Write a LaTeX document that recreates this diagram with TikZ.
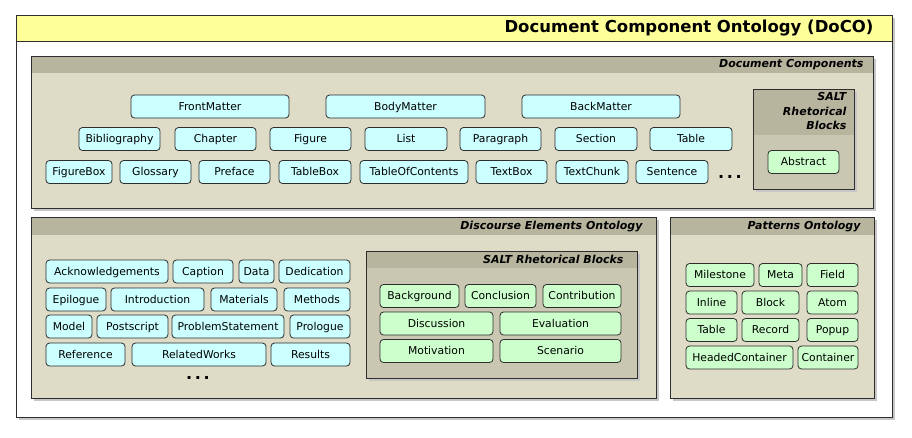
\documentclass[tikz,border=0pt]{standalone}
\usepackage{fontspec}
\setmainfont{DejaVu Sans}
\usepackage{tikz}
\usetikzlibrary{shadows}
\definecolor{titelgelb}{HTML}{FFFF99}
\definecolor{kopfgrau}{HTML}{B8B59F}
\definecolor{feldgrau}{HTML}{DEDBC7}
\definecolor{saltgrau}{HTML}{C9C6B1}
\definecolor{hellblau}{HTML}{CCFFFF}
\definecolor{hellgruen}{HTML}{CCFFCC}
\definecolor{rand}{HTML}{2E2E2E}

\begin{document}
\begin{tikzpicture}[
        x=1pt, y=-1pt,
        every node/.style={font=\fontsize{10.8}{13}\selectfont},
        schatten/.style={drop shadow={shadow xshift=3pt, shadow yshift=-3pt,
                         fill=black!22, opacity=1}},
        panel/.style={draw=rand, line width=0.8pt, fill=feldgrau, schatten,
          path picture={\fill[kopfgrau] (path picture bounding box.north west)
            rectangle ([yshift=-#1]path picture bounding box.north east);}},
        panel/.default=17pt,
        kopftext/.style={font=\fontsize{11}{14.5}\selectfont\bfseries\itshape,
                         anchor=east},
        cbox/.style={draw=rand, line width=0.8pt, rounded corners=3.5pt,
                     fill=hellblau, minimum height=23pt, inner xsep=1pt,
                     inner ysep=0pt, text height=7.9pt, text depth=0pt},
        gbox/.style={cbox, fill=hellgruen},
        mehr/.style={font=\fontsize{16}{16}\selectfont\bfseries, anchor=base},
      ]
      \useasboundingbox (0,0) rectangle (912,437);

      % Rahmen mit Titel
      \draw[rand, line width=0.8pt, fill=white, schatten] (16,15) rectangle (892,417);
      \draw[rand, line width=0.8pt, fill=titelgelb] (16,15) rectangle (892,41);
      \node[font=\fontsize{16.5}{20}\selectfont\bfseries, anchor=east] (titel)
        at (877,28.5) {Document Component Ontology (DoCO)};

      % Document Components
      \draw[panel] (31,56) rectangle (873,208);
      \node[kopftext] (dc) at (867,65) {Document Components};
      \foreach \l/\r/\t in {131/289/FrontMatter, 326/485/BodyMatter, 522/680/BackMatter}
        \node[cbox, minimum width={(\r-\l)*1pt}] (dc-\t) at ({(\l+\r)/2},106.5) {\t};
      \foreach \l/\r/\t in {79/160/Bibliography, 175/256/Chapter, 270/351/Figure,
                            365/447/List, 460/541/Paragraph, 555/637/Section, 650/732/Table}
        \node[cbox, minimum width={(\r-\l)*1pt}] (dc-\t) at ({(\l+\r)/2},139) {\t};
      \foreach \l/\r/\t in {46/112/FigureBox, 120/191/Glossary, 199/270/Preface,
                            279/351/TableBox, 360/468/TableOfContents, 476/547/TextBox,
                            556/628/TextChunk, 636/708/Sentence}
        \node[cbox, minimum width={(\r-\l)*1pt}] (dc-\t) at ({(\l+\r)/2},172) {\t};
      \node[mehr] (dc-mehr) at (730,178) {.\,.\,.};

      % SALT (Document Components)
      \draw[panel=46pt, fill=saltgrau] (753,89) rectangle (854,189);
      \node[kopftext, anchor=north east, align=right] (dc-salt) at (850,89)
        {SALT\\Rhetorical\\Blocks};
      \node[gbox, minimum width=71pt] (dc-Abstract) at (803.5,162) {Abstract};

      % Discourse Elements Ontology
      \draw[panel=18pt] (31,217) rectangle (656,398);
      \node[kopftext] (deo) at (646,226.5) {Discourse Elements Ontology};
      \foreach \l/\r/\t/\y in {46/168/Acknowledgements/271.5, 173/233/Caption/271.5,
                               239/274/Data/271.5, 279/350/Dedication/271.5,
                               46/106/Epilogue/299.5, 111/204/Introduction/299.5,
                               211/277/Materials/299.5, 284/350/Methods/299.5,
                               46/92/Model/326.5, 97/168/Postscript/326.5,
                               172/284/ProblemStatement/326.5, 290/350/Prologue/326.5,
                               46/125/Reference/354.5, 132/266/RelatedWorks/354.5,
                               271/350/Results/354.5}
        \node[cbox, minimum width={(\r-\l)*1pt}] (deo-\t) at ({(\l+\r)/2},\y) {\t};
      \node[mehr] (deo-mehr) at (198,379) {.\,.\,.};

      % SALT (Discourse Elements)
      \draw[panel=17pt, fill=saltgrau] (366,251) rectangle (637,378);
      \node[kopftext] (salt) at (627,259.5) {SALT Rhetorical Blocks};
      \foreach \l/\r/\t/\y in {380/459/Background/296, 465/536/Conclusion/296,
                               543/621/Contribution/296, 380/493/Discussion/323.5,
                               500/621/Evaluation/323.5, 380/493/Motivation/351,
                               500/621/Scenario/351}
        \node[gbox, minimum width={(\r-\l)*1pt}] (salt-\t) at ({(\l+\r)/2},\y) {\t};

      % Patterns Ontology
      \draw[panel=18pt] (670,217) rectangle (874,398);
      \node[kopftext] (po) at (864,226.5) {Patterns Ontology};
      \foreach \l/\r/\t/\y in {686/754/Milestone/275, 759/802/Meta/275, 807/858/Field/275,
                               686/737/Inline/302.5, 742/799/Block/302.5, 807/858/Atom/302.5,
                               686/737/Table/330, 742/799/Record/330, 807/858/Popup/330,
                               686/793/HeadedContainer/357.5, 798/858/Container/357.5}
        \node[gbox, minimum width={(\r-\l)*1pt}] (po-\t) at ({(\l+\r)/2},\y) {\t};
    \end{tikzpicture}
\end{document}
